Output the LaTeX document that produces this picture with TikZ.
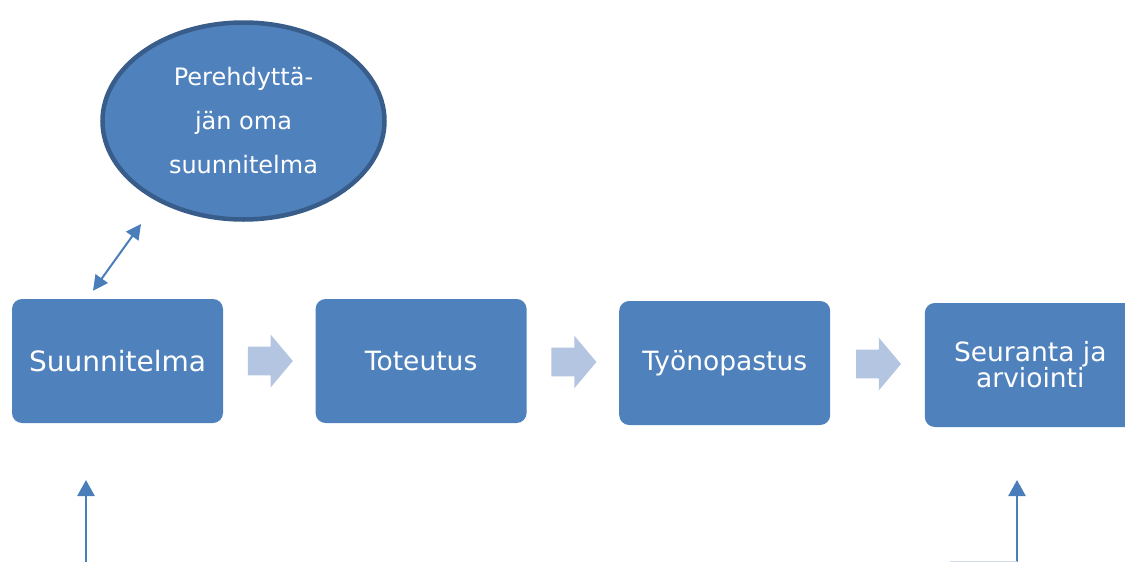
\documentclass[tikz,border=0pt]{standalone}
\usepackage{fontspec}
\setmainfont{DejaVu Sans}
\usetikzlibrary{arrows.meta,positioning,shapes.geometric,shapes.arrows}

\definecolor{boxblue}{HTML}{4F81BD}
\definecolor{rimblue}{HTML}{385D8A}
\definecolor{lineblue}{HTML}{4A7EBB}
\definecolor{flowblue}{HTML}{B4C5E1}

\begin{document}
\begin{tikzpicture}[
    x = 1pt, y = 1pt, % one unit per pixel
    node distance = 92pt, % gap between the boxes
    > = {Triangle[length=15pt,width=15pt]}, % arrow head style
    semithick % line style
    ]

    \tikzset{
    phase/.style = {
        rectangle, rounded corners = 10pt,
        fill = boxblue, text = white,
        minimum width = 211pt, minimum height = 124pt,
        align = center, font = \fontsize{26.5}{26}\selectfont
        },
    plan/.style = {
        ellipse, draw = rimblue, line width = 4.5pt,
        fill = boxblue, text = white,
        minimum width = 282pt, minimum height = 197pt,
        align = center, font = \fontsize{24}{44}\selectfont
        },
    flow/.style = {
        single arrow, fill = flowblue, draw = none,
        minimum height = 45pt, inner xsep = 0pt, inner ysep = 14pt,
        single arrow head extend = 12pt, single arrow tip angle = 100,
        xshift = -5pt
        },
    link/.style = {draw = lineblue, line width = 2pt},
    feed/.style = {draw = lineblue, line width = 2.5pt,
        -{Triangle[length=16pt,width=17pt]}}
    }

    \useasboundingbox (0,0) rectangle (1125,-562);

    \node[phase, font = \fontsize{28}{30}\selectfont] (suun) at (117.5,-361) {Suunnitelma};
    \node[phase] (tote) [right=of suun] {Toteutus};
    \node[phase] (tyon) [right=of tote, yshift=-2pt] {Työnopastus};
    \node[phase] (seur) [right=of tyon, yshift=-2pt, xshift=2pt] {Seuranta ja\\arviointi};

    \node[plan] (oma) at (243.5,-121) {Perehdyttä-\\jän oma\\suunnitelma};

    \path (suun.east) -- (tote.west) node[midway, flow] (f1) {};
    \path (tote.east) -- (tyon.west) node[midway, flow] (f2) {};
    \path (tyon.east) -- (seur.west) node[midway, flow] (f3) {};

    % two-way link to the ellipse
    \coordinate (pa) at ([xshift=-24.5pt, yshift=8pt]suun.north);
    \coordinate (pb) at (141,-224);
    \draw[link, <->] (pa) -- (pb);

    % arrows coming in from below
    \coordinate (in1) at (86,-563);
    \coordinate (up1) at (86,-480);
    \coordinate (in2) at (1017,-563);
    \coordinate (up2) at (1017,-480);
    \coordinate (rim) at (950,-561.5);
    \draw[feed] (in1) -- (up1);
    \draw[feed] (in2) -- (up2);
    \draw[draw = flowblue!60, line width = 1pt] (rim) -- (in2 |- rim);
\end{tikzpicture}
\end{document}
